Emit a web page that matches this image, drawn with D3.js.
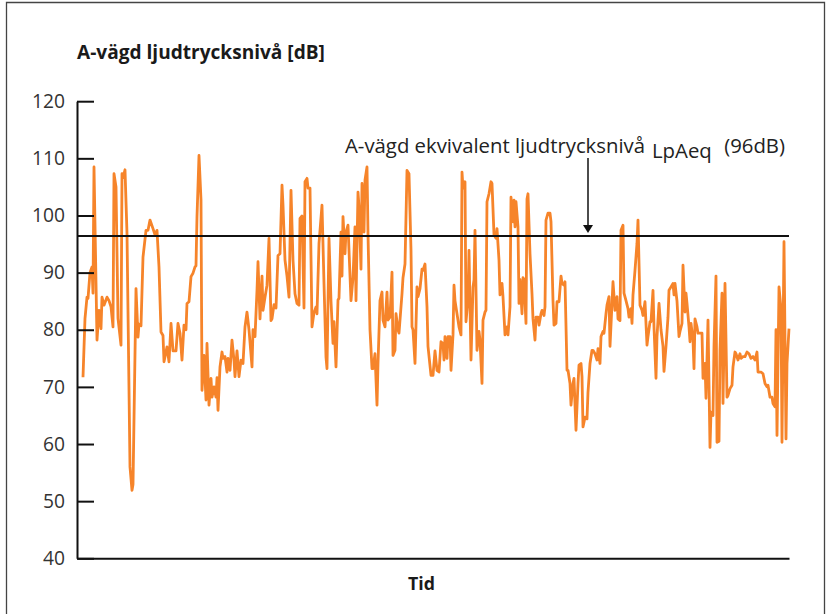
<!DOCTYPE html>
<html><head><meta charset="utf-8">
<script src="https://cdn.jsdelivr.net/npm/d3@7"></script>
<style>
html,body{margin:0;padding:0;background:#fff;}
svg{display:block;}
text{font-family:"Open Sans","Noto Sans",sans-serif;}
</style></head>
<body>
<svg id="chart" width="827" height="614"></svg>
<script>
// ---- data ----
const title = "A-vägd ljudtrycksnivå [dB]";
const xLabel = "Tid";
const yTicks = [40, 50, 60, 70, 80, 90, 100, 110, 120];
const leqValue = 96.4;
const leqLabel = "A-vägd ekvivalent ljudtrycksnivå";
const leqSymbol = "LpAeq";
const leqText = "(96dB)";
const timeMax = 712;
const arrowTime = 511;
// time (arbitrary units) and A-weighted level (dB)
const times = [6,8,10,11,13,15,16,17,20,22,24,25,27,30,32,34,36,37,39,41,44,45,46,48,50,53,55,56,59,61,62,64,66,69,71,73,76,78,80,82,84,86,87,90,92,94,96,99,101,103,105,107,109,110,112,114,116,118,119,120,122,124,125,127,129,130,132,134,135,137,139,140,141,143,145,146,148,150,151,153,155,157,158,160,162,164,166,168,170,172,175,176,178,180,181,183,185,186,188,190,192,194,195,197,199,201,203,205,206,208,210,212,214,216,218,220,222,223,225,227,228,230,231,233,235,237,239,240,242,245,247,249,250,252,254,256,257,259,261,262,264,265,266,268,269,271,272,274,276,278,279,281,282,284,285,287,288,290,291,293,295,296,298,300,301,303,305,306,308,310,311,313,315,316,318,319,321,322,325,326,328,330,332,334,335,336,338,340,341,343,345,346,348,350,351,354,356,358,360,362,364,366,367,368,370,371,373,374,376,377,378,380,382,384,385,386,388,389,391,392,394,396,397,398,400,402,403,405,406,408,409,410,412,414,415,417,419,420,422,423,425,426,428,430,431,433,434,436,437,438,439,441,442,443,445,446,447,449,450,451,453,455,456,458,459,461,462,464,465,467,468,469,471,473,474,476,477,479,480,482,484,485,487,488,490,491,493,494,496,497,499,501,502,504,505,506,508,510,511,513,515,516,518,520,521,523,524,526,527,529,530,532,533,535,536,538,540,541,543,544,546,547,549,551,552,554,555,556,558,560,561,563,565,566,568,570,571,573,574,576,577,579,580,582,584,586,587,589,591,592,594,596,597,598,600,602,603,605,606,608,609,610,612,613,614,616,617,618,620,621,623,625,626,628,629,631,633,634,636,637,639,640,642,643,645,646,648,650,651,653,655,656,658,659,661,663,664,666,668,670,672,674,676,678,680,681,684,686,688,690,691,693,695,696,698,699,700,702,704,705,707,709,710,712];
const levels = [71.7,82,85.7,85.5,90,91,86.4,108.5,78.2,83.4,80.2,85.7,84.3,85.7,85.1,84,80.5,107.3,105,82,77.3,107.3,106.6,108,96.8,56,51.9,52.9,87.2,78.7,81,80.7,92.7,97.4,97.4,99.2,97.7,96.6,97.4,91,79.6,79,74.4,77,74.4,81.1,76.3,76.3,81.1,79.4,74.7,80.8,80,84.6,84.9,89.3,89.9,91,91.2,99.8,110.5,102.7,69.4,75.5,67.7,77.6,66.8,71.5,68.2,70,68.2,71.6,65.9,73.5,76.1,75,75.3,72.6,75,72.9,78.2,74.7,71.8,76.3,71.8,74.7,74.1,80.5,83.1,80,73.5,80,78.8,86.9,91.9,81.9,89.4,83.4,85.7,87.8,96,81.6,81.9,84.4,83.8,93,93.3,105.3,101.8,92.2,89.4,85.7,104.4,92.2,86.3,84.6,84.3,99.5,99.9,83.8,105.9,106.5,104.8,104.8,80.5,83,84,82.8,95.1,101.8,88.1,75.2,73.2,96,85,77.6,81.4,73.5,85.2,85.5,97.1,89.4,99.8,93.3,97.1,98.3,93.9,85.1,89.1,98,85.1,104.1,101.5,90.6,105.6,97.1,106.2,108.5,96.8,80,73.2,73.2,75.8,66.8,74.1,85.1,86.6,81.7,80.5,86.6,81.7,82.2,90.1,75.5,76.4,82.8,80,79.4,86.3,89.1,91.5,107.9,107.3,93.9,80.5,80,74.1,87.5,85.8,87.2,90.6,90.4,91.5,84,77.1,72,72,76.3,72.9,72.6,77.9,77.6,74.7,78.8,75,78.8,78.8,72.9,79.1,87.8,85.1,82.8,80.5,79.1,107.6,104.8,105.9,81.4,85.5,93.9,74.7,87.5,88.7,97.4,76.4,79.7,78.2,70.6,81.7,83.1,83.4,102.4,103.8,105.9,105.6,96.6,96,97.7,92.2,86.1,88.1,85.8,79.1,80.5,79.1,84,103.2,98.9,102.7,98,102.4,98,84.6,88.8,82.8,89.1,88.8,81.1,102.9,103.8,93.3,86.3,81.9,78.2,82.2,82.2,80.8,82.8,83.4,82.5,84,99.2,100.4,100.4,98.9,85.1,80.8,81.1,84.9,84.9,89.4,88.1,87.8,88.4,72.9,72.9,70.6,66.8,70.6,71.5,62.4,70.6,73.8,74.1,71.8,63,64.7,64.4,69.1,74.1,76.4,76.4,75.8,74.7,76.7,74.1,78.8,79.7,79.4,82.8,84.3,85.8,77.1,84.6,88.4,83.4,85.8,81.9,81.6,97.4,98.3,86.4,85.1,83.7,82.2,83.7,81.1,86.1,90.4,95.1,99.2,84.3,83.4,82.5,84.9,77.3,78.8,81.4,81.4,86.9,80.5,71.5,78.8,84.6,80,77.1,72.7,77.1,82.2,86.9,87.5,88.1,86.1,88.1,85,78.8,79.7,81.1,91.3,83.1,86.4,84.6,80.5,77.9,81.1,78.2,73.2,81.9,80.5,79.4,79.4,79.4,71.5,74.1,68,81.7,59.4,65.6,65,77.1,89.4,60.3,60.5,76.4,86.4,67.1,88.1,68.2,68.5,69.7,70.3,73.5,76.1,75.8,74.7,75.8,75,75.3,75.3,76.1,75.8,75,75.3,74.7,76.1,72.6,72.6,72.3,70.6,70,70.3,68.2,68.2,67.1,66.5,80,61.5,87.5,83.7,60.3,95.4,60.9,74.1,80.2];

// ---- layout ----
const W = 827, H = 614;
const plot = {left: 77, right: 789, top: 101.2, bottom: 558.3};
const svg = d3.select("#chart");

const x = d3.scaleLinear().domain([0, timeMax]).range([plot.left, plot.right]);
const y = d3.scaleLinear().domain([d3.min(yTicks), d3.max(yTicks)]).range([plot.bottom, plot.top]);

// scale a text's font size so that it spans a given width
function fitWidth(sel, w) {
  const base = +sel.attr("font-size");
  const len = sel.node().getComputedTextLength();
  if (len > 0) sel.attr("font-size", (base * w / len).toFixed(2));
  return sel;
}

// frame
svg.append("path")
  .attr("d", `M6.5,${H} V2.5 H824.5 V${H}`)
  .attr("fill", "none").attr("stroke", "#444").attr("stroke-width", 1.3);

// title
const titleText = fitWidth(svg.append("text").attr("x", 77).attr("y", 58.5)
  .attr("font-size", 18).attr("font-weight", "bold").attr("fill", "#1a1a1a")
  .text(title), 248);

// data line
const series = times.map((t, i) => ({t, v: levels[i]}));
svg.append("path").datum(series)
  .attr("fill", "none").attr("stroke", "#F6842A").attr("stroke-width", 2.8)
  .attr("stroke-linejoin", "round")
  .attr("d", d3.line().x(d => x(d.t)).y(d => y(d.v)));

// Leq line
svg.append("line")
  .attr("x1", x(0)).attr("x2", x(timeMax))
  .attr("y1", y(leqValue)).attr("y2", y(leqValue))
  .attr("stroke", "#111").attr("stroke-width", 2);

// y axis
const yAxis = d3.axisLeft(y).tickValues(yTicks).tickSize(-17).tickSizeOuter(0).tickPadding(12);
const gy = svg.append("g").attr("transform", `translate(${plot.left},0)`).call(yAxis);
gy.select(".domain").attr("stroke", "#111").attr("stroke-width", 2);
gy.selectAll(".tick line").attr("stroke", "#111").attr("stroke-width", 2);
const tickTexts = gy.selectAll(".tick text").attr("font-size", 17).attr("fill", "#333")
  .attr("font-family", "'Open Sans', sans-serif");
// size tick labels so that "120" spans ~33px
const topTick = tickTexts.filter(d => d === d3.max(yTicks));
fitWidth(topTick, 33);
tickTexts.attr("font-size", topTick.attr("font-size"));

// x axis
const xAxis = d3.axisBottom(x).tickValues([]).tickSizeOuter(0);
const gx = svg.append("g").attr("transform", `translate(0,${plot.bottom})`).call(xAxis);
gx.select(".domain").attr("stroke", "#111").attr("stroke-width", 2);

svg.append("text").attr("x", 421.5).attr("y", 590)
  .attr("text-anchor", "middle").attr("font-size", (+titleText.attr("font-size") * 0.93).toFixed(2))
  .attr("font-weight", "bold").attr("fill", "#1a1a1a")
  .text(xLabel);

// annotation
const ann = fitWidth(svg.append("text").attr("x", 345).attr("y", 153).attr("font-size", 18).attr("fill", "#222")
  .text(leqLabel), 300);
const annSize = ann.attr("font-size");
svg.append("text").attr("x", 652).attr("y", 158).attr("font-size", annSize).attr("fill", "#222")
  .text(leqSymbol);
svg.append("text").attr("x", 785).attr("y", 153).attr("text-anchor", "end").attr("font-size", annSize).attr("fill", "#222")
  .text(leqText);

const ax = x(arrowTime), tipY = y(leqValue) - 3;
svg.append("line").attr("x1", ax).attr("x2", ax).attr("y1", 158).attr("y2", tipY - 6)
  .attr("stroke", "#111").attr("stroke-width", 1.5);
svg.append("path")
  .attr("d", `M${ax - 5},${tipY - 8} L${ax + 5},${tipY - 8} L${ax},${tipY} Z`)
  .attr("fill", "#111");
</script>
</body></html>
